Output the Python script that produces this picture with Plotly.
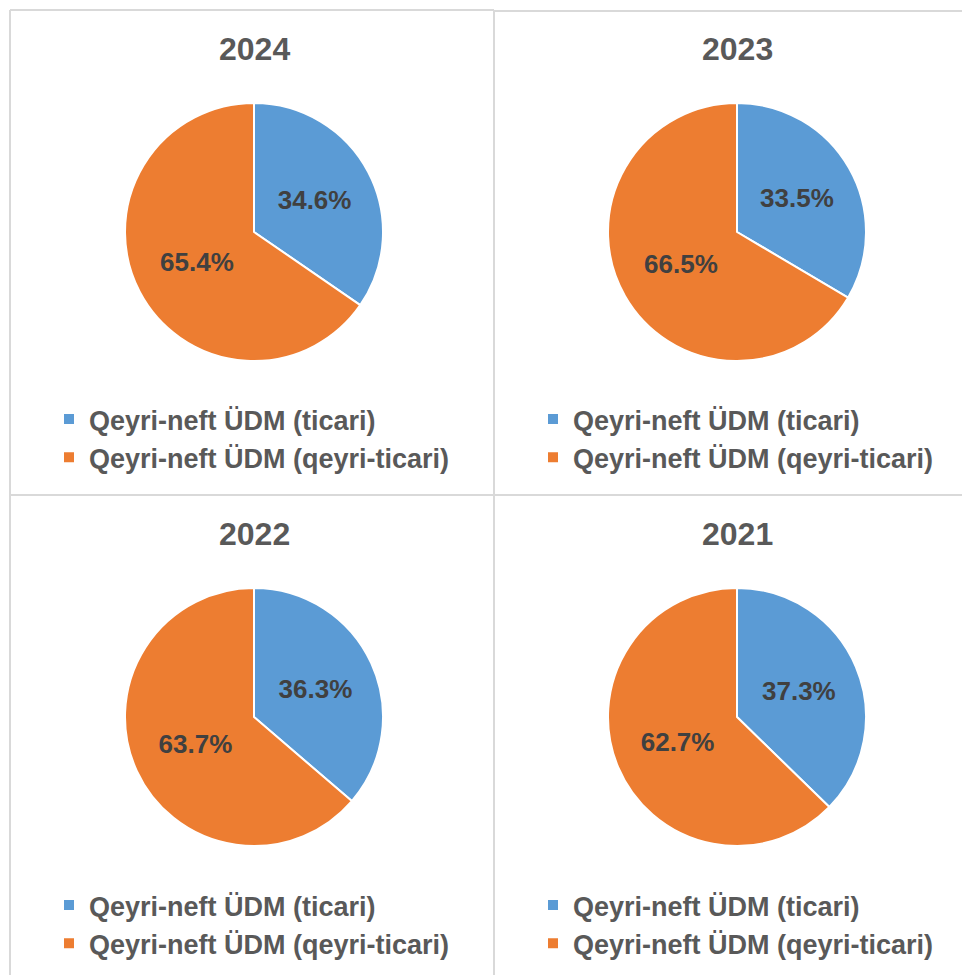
import plotly.graph_objects as go

# the page body has an 8px margin, so the figure starts at (8, 8) in the window
OFF = 8
W, H = 970 - OFF, 975 - OFF

YEARS = ["2024", "2023", "2022", "2021"]
LABELS = ["Qeyri-neft ÜDM (ticari)", "Qeyri-neft ÜDM (qeyri-ticari)"]
TICARI = [34.6, 33.5, 36.3, 37.3]
QEYRI_TICARI = [65.4, 66.5, 63.7, 62.7]

BLUE = "#5B9BD5"
ORANGE = "#ED7D31"
GRID = "#D9D9D9"
TEXT = "#595959"
FONT = "Liberation Sans, Arial, sans-serif"

# pie centres in window px, pie radius
CENTRES = [(254, 232), (737, 232), (254, 717), (737, 717)]
R = 129


def px_x(v):
    return (v - OFF) / W


def px_y(v):
    return 1 - (v - OFF) / H


fig = go.Figure()
legend_names = ["legend", "legend2", "legend3", "legend4"]

for i, year in enumerate(YEARS):
    cx, cy = CENTRES[i]
    fig.add_trace(go.Pie(
        labels=LABELS,
        values=[TICARI[i], QEYRI_TICARI[i]],
        sort=False,
        direction="clockwise",
        rotation=0,
        marker=dict(colors=[BLUE, ORANGE], line=dict(color="white", width=2)),
        texttemplate="%{value:.1f}%",
        textposition="inside",
        insidetextorientation="horizontal",
        textfont=dict(family=FONT, size=26, color="#404040", weight="bold"),
        domain=dict(x=[px_x(cx - R), px_x(cx + R)], y=[px_y(cy + R), px_y(cy - R)]),
        legend=legend_names[i],
        legendgroup=year,
        hoverinfo="label+percent",
    ))
    fig.add_annotation(
        text=year, x=px_x(cx), y=px_y(cy - 183), xref="paper", yref="paper",
        xanchor="center", yanchor="middle",
        showarrow=False, font=dict(family=FONT, size=32, color=TEXT, weight="bold"),
    )

legend_style = dict(
    font=dict(family=FONT, size=27, color=TEXT, weight="bold"),
    xanchor="left", yanchor="top", bgcolor="rgba(0,0,0,0)",
)
legend_pos = [(49, 395), (533, 395), (49, 881), (533, 881)]
layout_legends = {}
for name, (lx, ly) in zip(legend_names, legend_pos):
    layout_legends[name] = dict(x=px_x(lx), y=px_y(ly), **legend_style)

# panel borders
shapes = []
for x0, y0, x1, y1 in [
    (10, 10, 494, 10), (10, 10, 10, 975), (494, 10, 494, 975),
    (494, 11, 970, 11), (10, 495, 970, 495),
]:
    shapes.append(dict(type="line", xref="paper", yref="paper",
                       x0=px_x(x0), y0=px_y(y0), x1=px_x(x1), y1=px_y(y1),
                       line=dict(color=GRID, width=2)))

fig.update_layout(
    width=W, height=H,
    margin=dict(l=0, r=0, t=0, b=0),
    paper_bgcolor="white",
    plot_bgcolor="white",
    showlegend=True,
    shapes=shapes,
    **layout_legends,
)

fig.write_html("out.html")
